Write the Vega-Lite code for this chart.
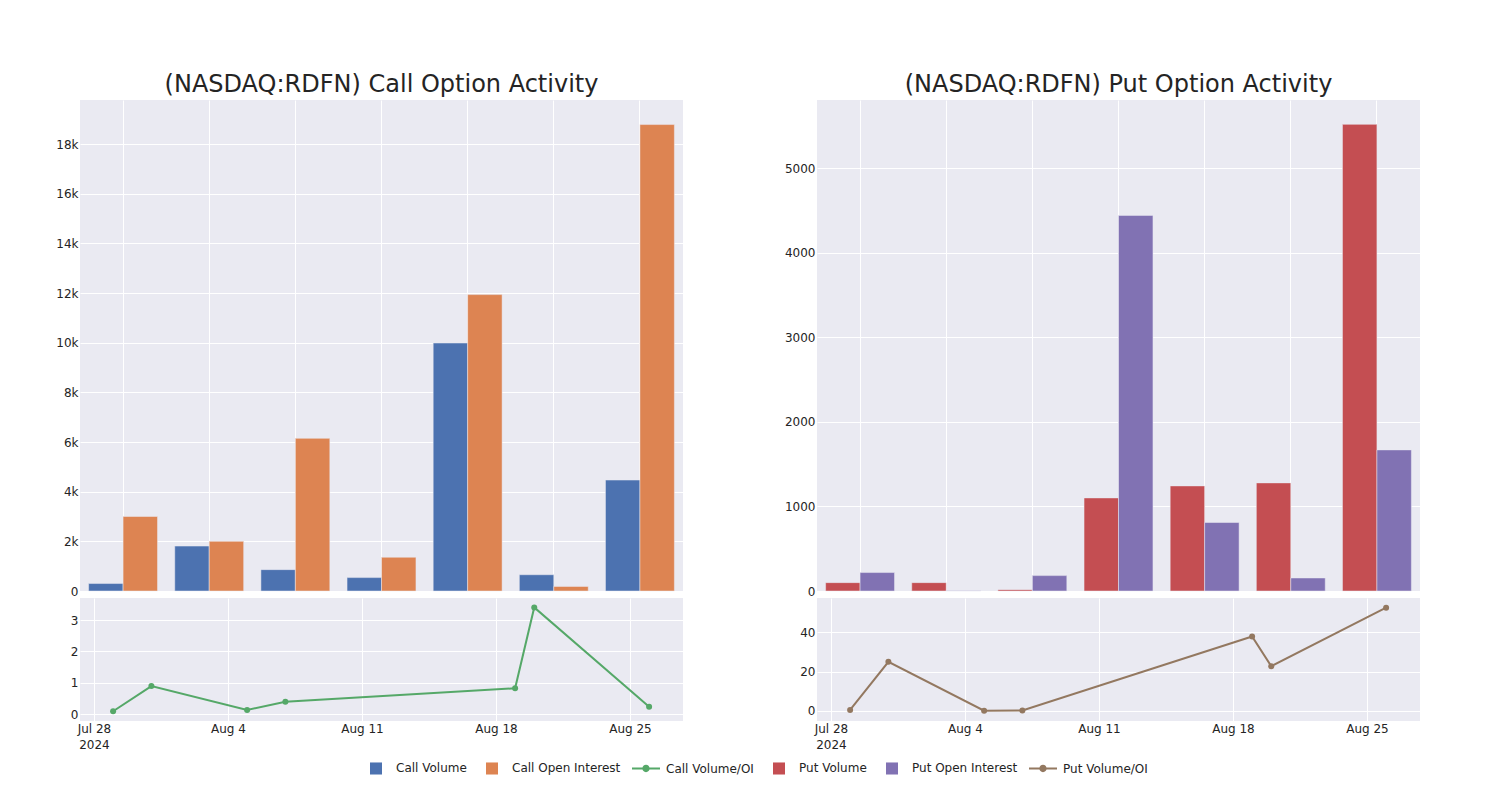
{
  "$schema": "https://vega.github.io/schema/vega-lite/v6.json",
  "padding": {"left": 40, "top": 73, "right": 0, "bottom": 0},
  "background": "white",
  "resolve": {"scale": {"xOffset": "independent"}},
  "config": {
    "font": "DejaVu Sans",
    "view": {"fill": "rgb(234,234,242)", "stroke": null},
    "axis": {
      "labelFont": "DejaVu Sans", "labelFontSize": 12, "labelColor": "rgb(36,36,36)",
      "domain": false, "ticks": false, "tickSize": 0, "gridColor": "white", "gridWidth": 1, "gridOpacity": 1,
      "title": null
    },
    "axisY": {"labelPadding": 2, "minExtent": 40, "maxExtent": 40},
    "title": {"font": "DejaVu Sans", "fontSize": 24, "fontWeight": "normal", "color": "rgb(36,36,36)", "offset": 3, "baseline": "alphabetic", "anchor": "middle"}
  },
  "datasets": {
    "callBars": [
      {"cat": "2024-07-29", "series": "Call Volume", "value": 300},
      {"cat": "2024-07-29", "series": "Call Open Interest", "value": 3000},
      {"cat": "2024-07-31", "series": "Call Volume", "value": 1810},
      {"cat": "2024-07-31", "series": "Call Open Interest", "value": 2000},
      {"cat": "2024-08-05", "series": "Call Volume", "value": 860},
      {"cat": "2024-08-05", "series": "Call Open Interest", "value": 6150},
      {"cat": "2024-08-07", "series": "Call Volume", "value": 540},
      {"cat": "2024-08-07", "series": "Call Open Interest", "value": 1360},
      {"cat": "2024-08-19", "series": "Call Volume", "value": 9990},
      {"cat": "2024-08-19", "series": "Call Open Interest", "value": 11940},
      {"cat": "2024-08-20", "series": "Call Volume", "value": 655},
      {"cat": "2024-08-20", "series": "Call Open Interest", "value": 185},
      {"cat": "2024-08-26", "series": "Call Volume", "value": 4470},
      {"cat": "2024-08-26", "series": "Call Open Interest", "value": 18790}
    ],
    "putBars": [
      {"cat": "2024-07-29", "series": "Put Volume", "value": 99},
      {"cat": "2024-07-29", "series": "Put Open Interest", "value": 218},
      {"cat": "2024-07-31", "series": "Put Volume", "value": 99},
      {"cat": "2024-07-31", "series": "Put Open Interest", "value": 4},
      {"cat": "2024-08-05", "series": "Put Volume", "value": 16},
      {"cat": "2024-08-05", "series": "Put Open Interest", "value": 182},
      {"cat": "2024-08-07", "series": "Put Volume", "value": 1101},
      {"cat": "2024-08-07", "series": "Put Open Interest", "value": 4443},
      {"cat": "2024-08-19", "series": "Put Volume", "value": 1243},
      {"cat": "2024-08-19", "series": "Put Open Interest", "value": 810},
      {"cat": "2024-08-20", "series": "Put Volume", "value": 1279},
      {"cat": "2024-08-20", "series": "Put Open Interest", "value": 154},
      {"cat": "2024-08-26", "series": "Put Volume", "value": 5520},
      {"cat": "2024-08-26", "series": "Put Open Interest", "value": 1669}
    ],
    "callRatio": [
      {"date": "2024-07-29", "series": "Call Volume/OI", "value": 0.1},
      {"date": "2024-07-31", "series": "Call Volume/OI", "value": 0.9},
      {"date": "2024-08-05", "series": "Call Volume/OI", "value": 0.14},
      {"date": "2024-08-07", "series": "Call Volume/OI", "value": 0.4},
      {"date": "2024-08-19", "series": "Call Volume/OI", "value": 0.83},
      {"date": "2024-08-20", "series": "Call Volume/OI", "value": 3.4},
      {"date": "2024-08-26", "series": "Call Volume/OI", "value": 0.24}
    ],
    "putRatio": [
      {"date": "2024-07-29", "series": "Put Volume/OI", "value": 0.5},
      {"date": "2024-07-31", "series": "Put Volume/OI", "value": 24.9},
      {"date": "2024-08-05", "series": "Put Volume/OI", "value": 0.1},
      {"date": "2024-08-07", "series": "Put Volume/OI", "value": 0.2},
      {"date": "2024-08-19", "series": "Put Volume/OI", "value": 37.8},
      {"date": "2024-08-20", "series": "Put Volume/OI", "value": 22.7},
      {"date": "2024-08-26", "series": "Put Volume/OI", "value": 52.4}
    ]
  },
  "hconcat": [
    {
      "spacing": 1,
      "vconcat": [
        {
          "title": "(NASDAQ:RDFN) Call Option Activity",
          "width": 603, "height": 491,
          "data": {"name": "callBars"},
          "mark": {"type": "bar", "stroke": "rgb(234,234,242)", "strokeWidth": 0.5},
          "encoding": {
            "x": {"field": "cat", "type": "nominal", "scale": {"paddingInner": 0.2, "paddingOuter": 0.1},
                  "axis": {"labels": false, "grid": true, "bandPosition": 0.5, "labelPadding": 0, "minExtent": 0, "maxExtent": 0}},
            "xOffset": {"field": "series", "type": "nominal", "scale": {"domain": ["Call Volume", "Call Open Interest"]}},
            "y": {"field": "value", "type": "quantitative", "scale": {"domain": [0, 19780], "nice": false},
                  "axis": {"values": [0, 2000, 4000, 6000, 8000, 10000, 12000, 14000, 16000, 18000], "labelExpr": "datum.value == 0 ? '0' : format(datum.value / 1000, 'd') + 'k'"}},
            "color": {"field": "series", "type": "nominal",
              "scale": {"domain": ["Call Volume", "Call Open Interest", "Call Volume/OI", "Put Volume", "Put Open Interest", "Put Volume/OI"],
                        "range": ["rgb(76,114,176)", "rgb(221,132,82)", "rgb(85,168,104)", "rgb(196,78,82)", "rgb(129,114,179)", "rgb(147,120,96)"]},
              "legend": {"orient": "none", "legendX": 282, "legendY": 654, "direction": "horizontal", "columns": 6, "title": null,
                "padding": 0, "symbolSize": 784, "symbolStrokeWidth": 0, "labelOffset": 6, "columnPadding": 11,
                "labelFont": "DejaVu Sans", "labelFontSize": 12, "labelColor": "rgb(36,36,36)",
                "encode": {"symbols": {"update": {
                  "shape": {"signal": "indexof(datum.value, '/OI') >= 0 ? 'M-1,-0.075H1V0.075H-1Z M-0.26,0 A0.26,0.26 0 1,1 0.26,0 A0.26,0.26 0 1,1 -0.26,0 Z' : 'M-0.43,-0.43H0.43V0.43H-0.43Z'"},
                  "fill": {"signal": "scale('color', datum.value)"},
                  "strokeWidth": {"value": 0}, "opacity": {"value": 1}}}}}}
          }
        },
        {
          "width": 603, "height": 123,
          "data": {"name": "callRatio"},
          "mark": {"type": "line", "strokeWidth": 2, "point": {"filled": true, "size": 36}},
          "encoding": {
            "x": {"field": "date", "type": "temporal",
                  "scale": {"type": "utc", "domain": [{"year": 2024, "month": "jul", "date": 27, "hours": 6, "minutes": 30, "utc": true}, {"year": 2024, "month": "aug", "date": 27, "hours": 18, "minutes": 30, "utc": true}]},
                  "axis": {"grid": true, "labelPadding": 2, "labelLineHeight": 16,
                    "values": [{"year": 2024, "month": "jul", "date": 28, "utc": true}, {"year": 2024, "month": "aug", "date": 4, "utc": true}, {"year": 2024, "month": "aug", "date": 11, "utc": true}, {"year": 2024, "month": "aug", "date": 18, "utc": true}, {"year": 2024, "month": "aug", "date": 25, "utc": true}],
                    "labelExpr": "utcFormat(datum.value, '%b %-d') == 'Jul 28' ? ['Jul 28', '2024'] : utcFormat(datum.value, '%b %-d')"}},
            "y": {"field": "value", "type": "quantitative", "scale": {"domain": [-0.21, 3.7], "nice": false, "zero": false},
                  "axis": {"values": [0, 1, 2, 3]}},
            "color": {"field": "series", "type": "nominal",
              "scale": {"domain": ["Call Volume", "Call Open Interest", "Call Volume/OI", "Put Volume", "Put Open Interest", "Put Volume/OI"],
                        "range": ["rgb(76,114,176)", "rgb(221,132,82)", "rgb(85,168,104)", "rgb(196,78,82)", "rgb(129,114,179)", "rgb(147,120,96)"]},
              "legend": {"orient": "none", "legendX": 282, "legendY": 654, "direction": "horizontal", "columns": 6, "title": null,
                "padding": 0, "symbolSize": 784, "symbolStrokeWidth": 0, "labelOffset": 6, "columnPadding": 11,
                "labelFont": "DejaVu Sans", "labelFontSize": 12, "labelColor": "rgb(36,36,36)",
                "encode": {"symbols": {"update": {
                  "shape": {"signal": "indexof(datum.value, '/OI') >= 0 ? 'M-1,-0.075H1V0.075H-1Z M-0.26,0 A0.26,0.26 0 1,1 0.26,0 A0.26,0.26 0 1,1 -0.26,0 Z' : 'M-0.43,-0.43H0.43V0.43H-0.43Z'"},
                  "fill": {"signal": "scale('color', datum.value)"},
                  "strokeWidth": {"value": 0}, "opacity": {"value": 1}}}}}}
          }
        }
      ]
    },
    {
      "spacing": 1,
      "vconcat": [
        {
          "title": "(NASDAQ:RDFN) Put Option Activity",
          "width": 603, "height": 491,
          "data": {"name": "putBars"},
          "mark": {"type": "bar", "stroke": "rgb(234,234,242)", "strokeWidth": 0.5},
          "encoding": {
            "x": {"field": "cat", "type": "nominal", "scale": {"paddingInner": 0.2, "paddingOuter": 0.1},
                  "axis": {"labels": false, "grid": true, "bandPosition": 0.5, "labelPadding": 0, "minExtent": 0, "maxExtent": 0}},
            "xOffset": {"field": "series", "type": "nominal", "scale": {"domain": ["Put Volume", "Put Open Interest"]}},
            "y": {"field": "value", "type": "quantitative", "scale": {"domain": [0, 5808], "nice": false},
                  "axis": {"values": [0, 1000, 2000, 3000, 4000, 5000], "format": "d"}},
            "color": {"field": "series", "type": "nominal",
              "scale": {"domain": ["Call Volume", "Call Open Interest", "Call Volume/OI", "Put Volume", "Put Open Interest", "Put Volume/OI"],
                        "range": ["rgb(76,114,176)", "rgb(221,132,82)", "rgb(85,168,104)", "rgb(196,78,82)", "rgb(129,114,179)", "rgb(147,120,96)"]},
              "legend": {"orient": "none", "legendX": 282, "legendY": 654, "direction": "horizontal", "columns": 6, "title": null,
                "padding": 0, "symbolSize": 784, "symbolStrokeWidth": 0, "labelOffset": 6, "columnPadding": 11,
                "labelFont": "DejaVu Sans", "labelFontSize": 12, "labelColor": "rgb(36,36,36)",
                "encode": {"symbols": {"update": {
                  "shape": {"signal": "indexof(datum.value, '/OI') >= 0 ? 'M-1,-0.075H1V0.075H-1Z M-0.26,0 A0.26,0.26 0 1,1 0.26,0 A0.26,0.26 0 1,1 -0.26,0 Z' : 'M-0.43,-0.43H0.43V0.43H-0.43Z'"},
                  "fill": {"signal": "scale('color', datum.value)"},
                  "strokeWidth": {"value": 0}, "opacity": {"value": 1}}}}}}
          }
        },
        {
          "width": 603, "height": 123,
          "data": {"name": "putRatio"},
          "mark": {"type": "line", "strokeWidth": 2, "point": {"filled": true, "size": 36}},
          "encoding": {
            "x": {"field": "date", "type": "temporal",
                  "scale": {"type": "utc", "domain": [{"year": 2024, "month": "jul", "date": 27, "hours": 6, "minutes": 30, "utc": true}, {"year": 2024, "month": "aug", "date": 27, "hours": 18, "minutes": 30, "utc": true}]},
                  "axis": {"grid": true, "labelPadding": 2, "labelLineHeight": 16,
                    "values": [{"year": 2024, "month": "jul", "date": 28, "utc": true}, {"year": 2024, "month": "aug", "date": 4, "utc": true}, {"year": 2024, "month": "aug", "date": 11, "utc": true}, {"year": 2024, "month": "aug", "date": 18, "utc": true}, {"year": 2024, "month": "aug", "date": 25, "utc": true}],
                    "labelExpr": "utcFormat(datum.value, '%b %-d') == 'Jul 28' ? ['Jul 28', '2024'] : utcFormat(datum.value, '%b %-d')"}},
            "y": {"field": "value", "type": "quantitative", "scale": {"domain": [-5.1, 57.3], "nice": false, "zero": false},
                  "axis": {"values": [0, 20, 40]}},
            "color": {"field": "series", "type": "nominal",
              "scale": {"domain": ["Call Volume", "Call Open Interest", "Call Volume/OI", "Put Volume", "Put Open Interest", "Put Volume/OI"],
                        "range": ["rgb(76,114,176)", "rgb(221,132,82)", "rgb(85,168,104)", "rgb(196,78,82)", "rgb(129,114,179)", "rgb(147,120,96)"]},
              "legend": {"orient": "none", "legendX": 282, "legendY": 654, "direction": "horizontal", "columns": 6, "title": null,
                "padding": 0, "symbolSize": 784, "symbolStrokeWidth": 0, "labelOffset": 6, "columnPadding": 11,
                "labelFont": "DejaVu Sans", "labelFontSize": 12, "labelColor": "rgb(36,36,36)",
                "encode": {"symbols": {"update": {
                  "shape": {"signal": "indexof(datum.value, '/OI') >= 0 ? 'M-1,-0.075H1V0.075H-1Z M-0.26,0 A0.26,0.26 0 1,1 0.26,0 A0.26,0.26 0 1,1 -0.26,0 Z' : 'M-0.43,-0.43H0.43V0.43H-0.43Z'"},
                  "fill": {"signal": "scale('color', datum.value)"},
                  "strokeWidth": {"value": 0}, "opacity": {"value": 1}}}}}}
          }
        }
      ]
    }
  ],
  "spacing": 94
}
